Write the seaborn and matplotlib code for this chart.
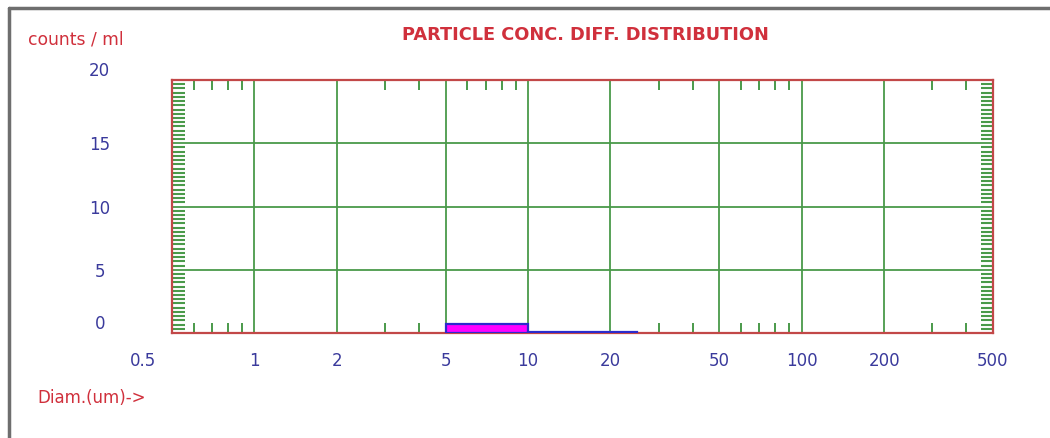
import numpy as np
import matplotlib
matplotlib.use("Agg")
import matplotlib.pyplot as plt
import matplotlib.transforms as mtrans
from matplotlib.lines import Line2D
from matplotlib.ticker import FixedLocator, MultipleLocator, NullFormatter
import seaborn as sns

# ---- data ----
bin_lo = [5, 10]
bin_hi = [10, 25]
conc = [0.7, 0.08]
bin_fill = ["#ff00ff", "#2b2bcc"]
x_ticks = [0.5, 1, 2, 5, 10, 20, 50, 100, 200, 500]
x_labels = ["0.5", "1", "2", "5", "10", "20", "50", "100", "200", "500"]
x_minor = [0.6, 0.7, 0.8, 0.9, 3, 4, 6, 7, 8, 9, 30, 40, 60, 70, 80, 90, 300, 400]
y_ticks = [0, 5, 10, 15, 20]
y_labels = ["0", "5", "10", "15", "20"]

RED = "#d0303c"
SPINE = "#c24848"
GREEN = "#4a9a4a"
NAVY = "#3a3a9c"
EDGE = "#2b2bcc"

sns.set_theme(style="white")
plt.rcParams["font.family"] = ["DejaVu Sans"]

fig = plt.figure(figsize=(10.5, 4.38), dpi=100)
W, H = 1050, 438
ax = fig.add_axes([172 / W, 1 - 333 / H, (993 - 172) / W, (333 - 80) / H])

for lo, hi, v, c in zip(bin_lo, bin_hi, conc, bin_fill):
    log_edges = [float(np.log10(lo)), float(np.log10(hi))]
    sns.histplot(x=[float(np.sqrt(lo * hi))], weights=[v], bins=log_edges,
                 log_scale=True, color=c, edgecolor=EDGE, linewidth=1.6,
                 alpha=1, ax=ax, zorder=3)

ax.set_xlim(0.5, 500)
ax.set_ylim(0, 20)
ax.set_xlabel("")
ax.set_ylabel("")

ax.set_xticks(x_ticks)
ax.set_xticklabels(x_labels)
ax.xaxis.set_minor_locator(FixedLocator(x_minor))
ax.xaxis.set_minor_formatter(NullFormatter())
ax.set_yticks(y_ticks)
ax.set_yticklabels(y_labels, ha="center")
ax.yaxis.set_minor_locator(MultipleLocator(1 / 3))

ax.tick_params(axis="x", which="major", length=0, pad=14, labelsize=12, labelcolor=NAVY)
ax.tick_params(axis="x", which="minor", direction="in", length=7, width=1.4,
               color=GREEN, top=True, bottom=True)
ax.tick_params(axis="y", which="major", length=0, pad=52, labelsize=12, labelcolor=NAVY)
ax.tick_params(axis="y", which="minor", direction="in", length=9, width=1.5,
               color=GREEN, left=True, right=True)

ax.set_axisbelow(True)
ax.grid(True, which="major", color=GREEN, linewidth=1.3)

for s in ax.spines.values():
    s.set_color(SPINE)
    s.set_linewidth(1.6)
    s.set_visible(True)

yt = ax.yaxis.get_major_ticks()
yt[0].label1.set_va("bottom")
yt[-1].label1.set_va("bottom")
xt = ax.xaxis.get_major_ticks()
xt[0].label1.set_transform(xt[0].label1.get_transform() +
                           mtrans.ScaledTranslation(-0.29, 0, fig.dpi_scale_trans))

fig.text(28 / W, 1 - 40 / H, "counts / ml", color=RED, fontsize=12.3, ha="left", va="center")
fig.text(585 / W, 1 - 35 / H, "PARTICLE CONC. DIFF. DISTRIBUTION", color=RED,
         fontsize=12.8, fontweight="bold", ha="center", va="center")
fig.text(37 / W, 1 - 398 / H, "Diam.(um)->", color=RED, fontsize=12, ha="left", va="center")

fig.add_artist(Line2D([9 / W, 9 / W], [0, 1 - 8 / H], transform=fig.transFigure,
                      color="#6e6e6e", linewidth=2.5))
fig.add_artist(Line2D([9 / W, 1], [1 - 8 / H, 1 - 8 / H], transform=fig.transFigure,
                      color="#6e6e6e", linewidth=2.5))

fig.savefig("out.png", dpi=100)
